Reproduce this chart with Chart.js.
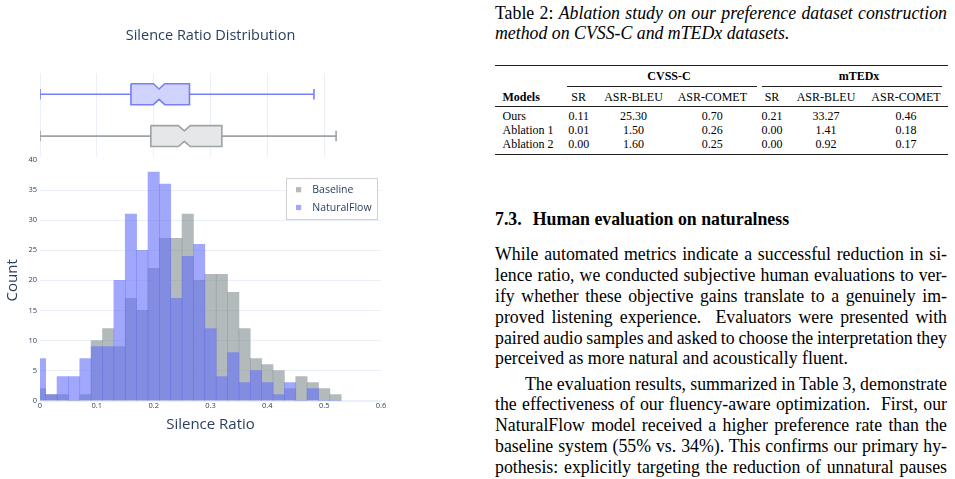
<!DOCTYPE html>
<html><head><meta charset="utf-8">
<script src="https://cdn.jsdelivr.net/npm/chart.js@4.4.1/dist/chart.umd.min.js"></script>
<style>
html,body{margin:0;padding:0;background:#fff;}
body{width:955px;height:479px;overflow:hidden;position:relative;}
#boxCanvas{position:absolute;left:0;top:0;}
#histCanvas{position:absolute;left:0;top:150px;}
.p{position:absolute;font-family:"Liberation Serif","Times New Roman",serif;color:#000;white-space:pre;}
.ln{left:495px;width:452px;height:20px;line-height:20px;font-size:17.8px;}
.ln span{white-space:pre;}
.rule{position:absolute;background:#222;}
.tc{position:absolute;font-family:"Liberation Serif","Times New Roman",serif;font-size:12px;line-height:14px;height:14px;color:#000;white-space:pre;text-align:center;width:100px;}
</style>
</head><body>
<canvas id="boxCanvas" width="460" height="158"></canvas>
<canvas id="histCanvas" width="460" height="329"></canvas>

<div class="p ln j" style="top:2.7px"><span>Table 2: <i>Ablation study on our preference dataset construction</i></span></div>
<div class="p ln" style="top:23.4px"><span><i>method on CVSS-C and mTEDx datasets.</i></span></div>

<div class="p" style="left:495px;top:208.7px;font-size:17.8px;line-height:20px;font-weight:bold;">7.3.</div>
<div class="p" style="left:532.7px;top:208.7px;font-size:17.8px;line-height:20px;font-weight:bold;">Human evaluation on naturalness</div>

<div class="p ln j" style="top:244.4px"><span>While automated metrics indicate a successful reduction in si-</span></div>
<div class="p ln j" style="top:265.1px"><span>lence ratio, we conducted subjective human evaluations to ver-</span></div>
<div class="p ln j" style="top:285.9px"><span>ify whether these objective gains translate to a genuinely im-</span></div>
<div class="p ln j" style="top:306.7px"><span>proved listening experience.  Evaluators were presented with</span></div>
<div class="p ln j" style="top:327.5px"><span>paired audio samples and asked to choose the interpretation they</span></div>
<div class="p ln" style="top:348.3px"><span>perceived as more natural and acoustically fluent.</span></div>

<div class="p ln j" style="top:373.7px;left:525px;width:422px"><span>The evaluation results, summarized in Table 3, demonstrate</span></div>
<div class="p ln j" style="top:394.4px"><span>the effectiveness of our fluency-aware optimization.  First, our</span></div>
<div class="p ln j" style="top:415.1px"><span>NaturalFlow model received a higher preference rate than the</span></div>
<div class="p ln j" style="top:436.0px"><span>baseline system (55% vs. 34%). This confirms our primary hy-</span></div>
<div class="p ln j" style="top:456.9px"><span>pothesis: explicitly targeting the reduction of unnatural pauses</span></div>

<div id="table"></div>

<script>
// ---------- chart data ----------
const seriesNames = ['Baseline', 'NaturalFlow'];
const binCenters = [0, 0.02, 0.04, 0.06, 0.08, 0.10, 0.12, 0.14, 0.16, 0.18, 0.20, 0.22, 0.24, 0.26,
                    0.28, 0.30, 0.32, 0.34, 0.36, 0.38, 0.40, 0.42, 0.44, 0.46, 0.48, 0.50, 0.52];
const baselineCounts    = [2, 1, 1, 0, 1, 10, 12, 9, 17, 15, 22, 27, 27, 31, 20, 21, 21, 18, 12, 7, 6, 5, 2, 4, 3, 2, 1];
const naturalFlowCounts = [7, 1, 4, 4, 7, 9, 9, 20, 31, 25, 38, 36, 17, 24, 26, 12, 4, 8, 3, 5, 3, 1, 3, 0, 2, 0, 0];
const xTickLabels = ['0', '0.1', '0.2', '0.3', '0.4', '0.5', '0.6'];
const yTickLabels = ['0', '5', '10', '15', '20', '25', '30', '35', '40'];
// box statistics: [lower whisker, q1, notch low, median, notch high, q3, upper whisker]
const baselineBox    = [0, 0.195, 0.2435, 0.254, 0.2645, 0.320, 0.521];
const naturalFlowBox = [0, 0.160, 0.1995, 0.2095, 0.2195, 0.263, 0.482];

// ---------- table data ----------
const tableHeader = ['Models', 'SR', 'ASR-BLEU', 'ASR-COMET', 'SR', 'ASR-BLEU', 'ASR-COMET'];
const tableRows = [
  ['Ours', '0.11', '25.30', '0.70', '0.21', '33.27', '0.46'],
  ['Ablation 1', '0.01', '1.50', '0.26', '0.00', '1.41', '0.18'],
  ['Ablation 2', '0.00', '1.60', '0.25', '0.00', '0.92', '0.17']
];
const groupNames = ['CVSS-C', 'mTEDx'];

// ---------- styles ----------
const TXT = '#2a3f5f';
const GRID = '#EBF0F8';
const GRAY_BAR = 'rgba(127,140,141,0.6)';
const BLUE_BAR = 'rgba(99,110,250,0.6)';
const boxStyles = {
  Baseline:    {line: 'rgb(158,163,166)', fill: 'rgb(229,231,233)'},
  NaturalFlow: {line: 'rgb(118,126,248)', fill: 'rgb(207,211,253)'}
};
const BOX_HALF = 0.25, NOTCH_DEPTH = 0.125, CAP_HALF = 0.125;
Chart.defaults.font.family = "'Open Sans', sans-serif";

function boxShape(s, yc) {
  const [lo, q1, nlo, med, nhi, q3, hi] = s;
  const h = BOX_HALF, d = NOTCH_DEPTH;
  return [
    {x:q1,y:yc+h},{x:nlo,y:yc+h},{x:med,y:yc+h-d},{x:nhi,y:yc+h},{x:q3,y:yc+h},
    {x:q3,y:yc-h},{x:nhi,y:yc-h},{x:med,y:yc-h+d},{x:nlo,y:yc-h},{x:q1,y:yc-h},{x:q1,y:yc+h}
  ];
}
function whiskers(s, yc) {
  const [lo, q1, nlo, med, nhi, q3, hi] = s;
  const c = CAP_HALF;
  return [
    {x:lo,y:yc},{x:q1,y:yc},{x:q1,y:null},
    {x:q3,y:yc},{x:hi,y:yc},{x:hi,y:null},
    {x:lo,y:yc-c},{x:lo,y:yc+c},{x:lo,y:null},
    {x:hi,y:yc-c},{x:hi,y:yc+c}
  ];
}
function medianLine(s, yc) {
  const med = s[3];
  return [{x:med,y:yc-BOX_HALF+NOTCH_DEPTH},{x:med,y:yc+BOX_HALF-NOTCH_DEPTH}];
}
function boxDatasets(name, s, yc) {
  const st = boxStyles[name];
  const common = {type:'line', pointRadius:0, borderColor:st.line, borderWidth:1.6, tension:0, spanGaps:false};
  return [
    Object.assign({}, common, {label:name+' box', data:boxShape(s, yc), fill:'shape', backgroundColor:st.fill, borderJoinStyle:'miter'}),
    Object.assign({}, common, {label:name+' median', data:medianLine(s, yc), fill:false}),
    Object.assign({}, common, {label:name+' whiskers', data:whiskers(s, yc), fill:false})
  ];
}

new Chart(document.getElementById('boxCanvas'), {
  type: 'line',
  data: {datasets: [...boxDatasets('Baseline', baselineBox, 0), ...boxDatasets('NaturalFlow', naturalFlowBox, 1)]},
  options: {
    responsive: false, animation: false,
    layout: {padding: {left: 40, right: 79, top: 0, bottom: 1}},
    plugins: {
      legend: {display: false}, tooltip: {enabled: false},
      title: {display: true, text: 'Silence Ratio Distribution', color: TXT,
              font: {size: 14.5, weight: 'normal'}, padding: {top: 27.3, bottom: 28.6}}
    },
    scales: {
      x: {type: 'linear', min: 0, max: 0.6,
          ticks: {display: false, stepSize: 0.1},
          grid: {color: c => (c.tick && c.tick.value > 0.55) ? 'rgba(0,0,0,0)' : GRID, drawTicks: false, lineWidth: 1},
          border: {display: false}},
      y: {type: 'linear', min: -0.5, max: 1.5, display: false}
    }
  }
});

const legendPlugin = {
  id: 'boxedLegend',
  afterDraw(chart) {
    const ctx = chart.ctx;
    const L = 286.5, T = 28.5, W = 91, H = 41;
    ctx.save();
    ctx.fillStyle = '#fff';
    ctx.fillRect(L, T, W, H);
    ctx.strokeStyle = '#d0d0d0';
    ctx.lineWidth = 1;
    ctx.strokeRect(L, T, W, H);
    const items = chart.data.datasets.map(d => ({label: d.label, color: d.backgroundColor}));
    const ys = [39.7, 57.5];
    ctx.font = "10.5px 'Open Sans', sans-serif";
    ctx.textBaseline = 'middle';
    items.forEach((it, i) => {
      ctx.fillStyle = it.color;
      ctx.fillRect(296, ys[i] - 2.6, 5.2, 5.2);
      ctx.fillStyle = TXT;
      ctx.fillText(it.label, 312.3, ys[i] + 0.5);
    });
    ctx.restore();
  }
};

new Chart(document.getElementById('histCanvas'), {
  type: 'bar',
  data: {
    datasets: [
      {label: seriesNames[0], data: binCenters.map((x, i) => ({x: x, y: baselineCounts[i]})),
       backgroundColor: GRAY_BAR, borderWidth: 0, order: 1, grouped: false, barPercentage: 1, categoryPercentage: 1},
      {label: seriesNames[1], data: binCenters.map((x, i) => ({x: x, y: naturalFlowCounts[i]})),
       backgroundColor: BLUE_BAR, borderWidth: 0, order: 0, grouped: false, barPercentage: 1, categoryPercentage: 1}
    ]
  },
  options: {
    responsive: false, animation: false,
    layout: {padding: {left: 0, right: 79, top: 10, bottom: 45.3}},
    plugins: {legend: {display: false}, tooltip: {enabled: false}},
    scales: {
      x: {type: 'linear', min: 0, max: 0.6, offset: false,
          ticks: {stepSize: 0.1, padding: 1, color: TXT, font: {size: 7.5}, maxRotation: 0,
                  callback: (v, i) => xTickLabels[i]},
          grid: {display: false, drawTicks: false, offset: false},
          border: {display: true, color: GRID, width: 2},
          title: {display: true, text: 'Silence Ratio', color: TXT, font: {size: 15}, padding: 0},
          afterFit: s => { s.height = 33; }},
      y: {min: 0, max: 40,
          ticks: {stepSize: 5, padding: 3, color: TXT, font: {size: 7.5},
                  callback: (v, i) => yTickLabels[i]},
          grid: {color: c => (c.tick && (c.tick.value === 40 || c.tick.value === 0)) ? 'rgba(0,0,0,0)' : GRID, drawTicks: false, lineWidth: 1},
          border: {display: false},
          title: {display: true, text: 'Count', color: TXT, font: {size: 15}, padding: {top: 3.5, bottom: 0}},
          afterFit: s => { s.width = 40; }}
    }
  },
  plugins: [legendPlugin]
});

// ---------- table ----------
(function buildTable() {
  const t = document.getElementById('table');
  const add = (html) => t.insertAdjacentHTML('beforeend', html);
  const rule = (x1, x2, y, h) => add(`<div class="rule" style="left:${x1}px;width:${x2 - x1}px;top:${y}px;height:${h}px"></div>`);
  const colX = [null, 578.7, 633.5, 712.3, 772, 826, 906];
  const cell = (txt, cx, top, bold) =>
    add(`<div class="tc" style="left:${cx - 50}px;top:${top}px;${bold ? 'font-weight:bold;' : ''}">${txt}</div>`);
  const leftCell = (txt, top, bold) =>
    add(`<div class="tc" style="left:502.5px;top:${top}px;text-align:left;${bold ? 'font-weight:bold;' : ''}">${txt}</div>`);
  rule(495, 948, 65, 1.3);
  cell(groupNames[0], 669, 69.2, true);
  cell(groupNames[1], 859, 69.2, true);
  rule(567.3, 756.7, 86.3, 0.7);
  rule(761.7, 941.7, 86.3, 0.7);
  leftCell(tableHeader[0], 89.9, true);
  for (let c = 1; c < tableHeader.length; c++) cell(tableHeader[c], colX[c], 89.9, false);
  rule(495, 948, 106.3, 0.8);
  const tops = [108.5, 122.5, 136.9];
  tableRows.forEach((r, i) => {
    leftCell(r[0], tops[i], false);
    for (let c = 1; c < r.length; c++) cell(r[c], colX[c], tops[i], false);
  });
  rule(495, 948, 153.5, 1.3);
})();

// ---------- justify paper lines ----------
document.querySelectorAll('.j').forEach(el => {
  const sp = el.querySelector('span');
  const W = el.getBoundingClientRect().width;
  const w = sp.getBoundingClientRect().width;
  const n = (sp.textContent.match(/ /g) || []).length;
  if (n > 0) sp.style.wordSpacing = ((W - w) / n) + 'px';
});
</script>
</body></html>
